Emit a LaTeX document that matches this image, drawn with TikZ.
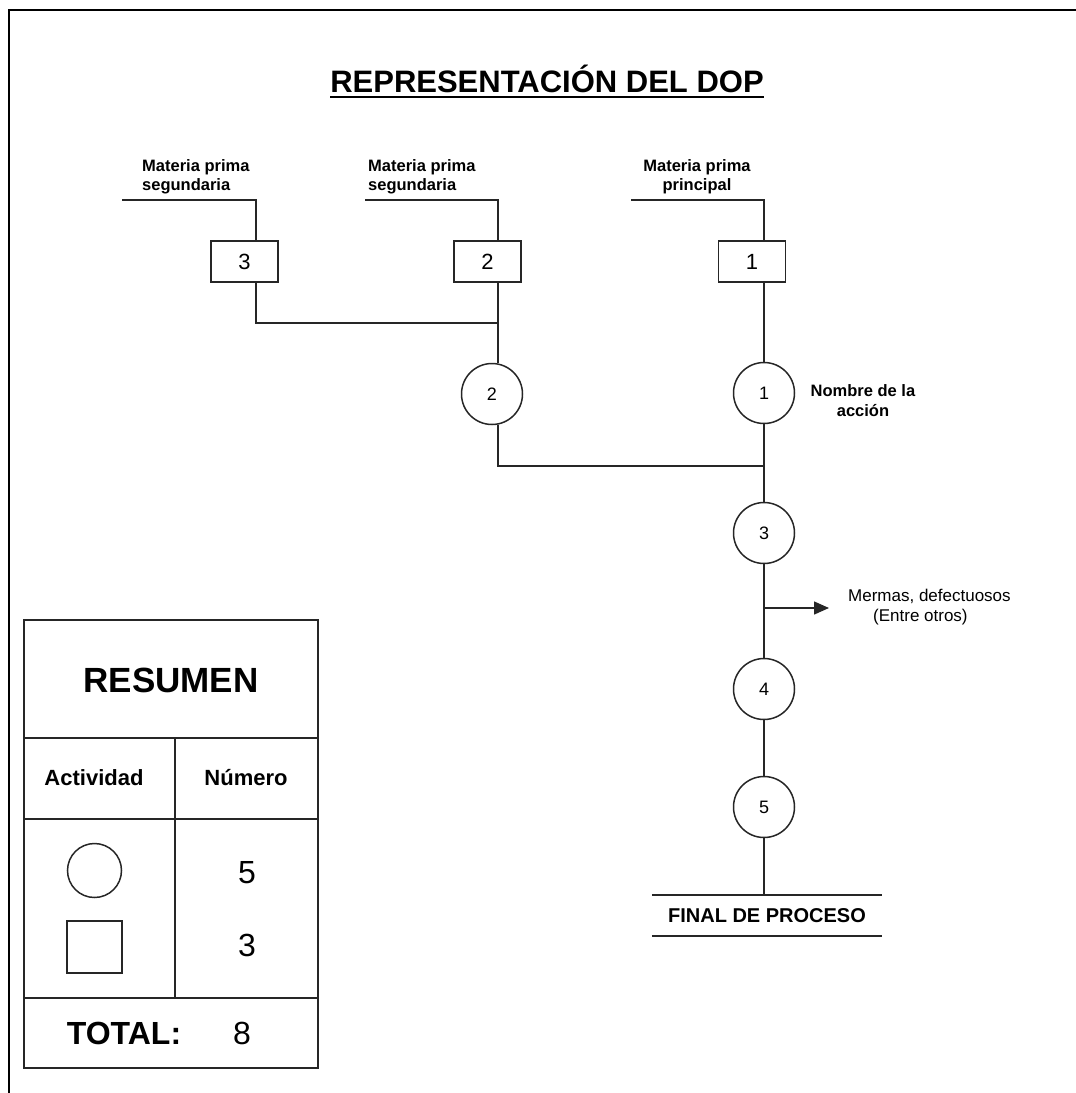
\documentclass[tikz,border=0pt]{standalone}
\usepackage{fontspec}
\setmainfont{Liberation Sans}
\usetikzlibrary{arrows.meta}
\begin{document}
\begin{tikzpicture}[x=1pt,y=-1pt,
  ln/.style={line width=1.5pt, draw=black!85},
  opcirc/.style={circle, draw=black!85, line width=1.5pt, minimum size=61pt,
    inner sep=0pt, font=\fontsize{18}{18}\selectfont},
  matbox/.style={rectangle, draw=black!85, line width=1.5pt, minimum width=67pt,
    minimum height=41pt, inner sep=0pt, font=\fontsize{22}{22}\selectfont},
  mplabel/.style={font=\bfseries\fontsize{16.5}{19}\selectfont, inner sep=0pt},
  note/.style={font=\fontsize{17}{21}\selectfont, inner sep=0pt},
  tbl/.style={line width=1.6pt, draw=black!85},
]
\useasboundingbox (0,0) rectangle (1076,1093);

% page frame (top and left edges)
\coordinate (fr-tr) at (1076,10);
\coordinate (fr-tl) at (9,10);
\coordinate (fr-bl) at (9,1093);
\draw[line width=2pt] (fr-tr) -- (fr-tl) -- (fr-bl);

% title
\node[font=\bfseries\fontsize{31}{31}\selectfont, inner sep=0pt, anchor=base]
  (title) at (547,92) {REPRESENTACIÓN DEL DOP};
\draw[line width=2.2pt] ([yshift=-5pt]title.base west) -- ([yshift=-5pt]title.base east);

% raw material labels
\node[mplabel, anchor=north west, align=left] (m3) at (142,159) {Materia prima\\segundaria};
\node[mplabel, anchor=north west, align=left] (m2) at (368,159) {Materia prima\\segundaria};
\node[mplabel, anchor=north, align=center] (m1) at (697,159) {Materia prima\\principal};

% feed lines
\coordinate (f3) at (122,200); \coordinate (k3) at (256,200);
\coordinate (f2) at (365,200); \coordinate (k2) at (498,200);
\coordinate (f1) at (631,200); \coordinate (k1) at (764,200);

% inspection boxes
\node[matbox] (b3) at (244.5,261.5) {3};
\node[matbox] (b2) at (487.5,261.5) {2};
\node[matbox] (b1) at (752,261.5) {1};

\draw[ln] (f3) -- (k3) -- (k3 |- b3.north);
\draw[ln] (f2) -- (k2) -- (k2 |- b2.north);
\draw[ln] (f1) -- (k1) -- (k1 |- b1.north);

% operations
\node[opcirc] (c2) at (492,394) {2};
\node[opcirc] (c1) at (764,393) {1};
\node[opcirc] (c3) at (764,533) {3};
\node[opcirc] (c4) at (764,689) {4};
\node[opcirc] (c5) at (764,807) {5};

% junction of 3 into 2
\coordinate (j3) at (256,323);
\draw[ln] (b3.south -| j3) -- (j3) -- (j3 -| k2);
\draw[ln] (b2.south -| k2) -- (c2.north -| k2);

% junction of 2 into main line
\coordinate (j2) at (498,466);
\draw[ln] (c2.south -| k2) -- (j2) -- (j2 -| c1);

% main line
\draw[ln] (b1.south -| c1) -- (c1);
\draw[ln] (c1) -- (c3);
\draw[ln] (c3) -- (c4);
\draw[ln] (c4) -- (c5);

\node[font=\bfseries\fontsize{16.5}{20}\selectfont, inner sep=0pt, align=center]
  (act) at (863,401) {Nombre de la\\acción};

% waste output
\coordinate (a0) at (764,608);
\coordinate (a1) at (829,608);
\draw[ln, -{Triangle[length=15pt,width=13pt]}] (a0) -- (a1);
\node[note, anchor=west] (w1) at (848,596) {Mermas, defectuosos};
\node[note, anchor=west] (w2) at (873,617) {(Entre otros)};

% end of process
\node[font=\bfseries\fontsize{20}{20}\selectfont, minimum width=230pt, minimum height=41pt,
  inner sep=0pt] (fin) at (767,915.5) {FINAL DE PROCESO};
\draw[ln] (fin.north west) -- (fin.north east);
\draw[ln] (fin.south west) -- (fin.south east);
\draw[ln] (c5) -- (c5 |- fin.north);

% summary table
\coordinate (t-nw) at (24,620);
\coordinate (t-se) at (318,1068);
\draw[tbl] (t-nw) rectangle (t-se);
\draw[tbl] (24,738) -- (318,738);
\draw[tbl] (24,819) -- (318,819);
\draw[tbl] (24,998) -- (318,998);
\draw[tbl] (175,738) -- (175,998);

\node[font=\bfseries\fontsize{35}{35}\selectfont, inner sep=0pt] (res) at (171,680) {RESUMEN};
\node[font=\bfseries\fontsize{22}{22}\selectfont, inner sep=0pt] (hact) at (94,778) {Actividad};
\node[font=\bfseries\fontsize{22}{22}\selectfont, inner sep=0pt] (hnum) at (246,778) {Número};

\node[circle, draw=black!85, line width=1.5pt, minimum size=54pt, inner sep=0pt] (sc) at (94.5,870.5) {};
\node[rectangle, draw=black!85, line width=1.6pt, minimum width=55pt, minimum height=52pt,
  inner sep=0pt] (ss) at (94.5,947) {};
\node[font=\fontsize{32}{32}\selectfont, inner sep=0pt] (n5) at (247,873) {5};
\node[font=\fontsize{32}{32}\selectfont, inner sep=0pt] (n3) at (247,945) {3};

\node[font=\bfseries\fontsize{32}{32}\selectfont, inner sep=0pt] (tot) at (124,1033) {TOTAL:};
\node[font=\fontsize{32}{32}\selectfont, inner sep=0pt] (n8) at (242,1033) {8};
\end{tikzpicture}
\end{document}
